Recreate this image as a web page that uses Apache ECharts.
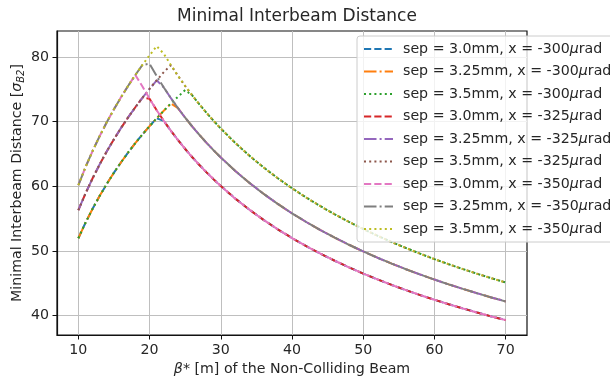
<!DOCTYPE html>
<html>
<head>
<meta charset="utf-8">
<script src="https://cdn.jsdelivr.net/npm/echarts@6/dist/echarts.min.js"></script>
<style>
html,body{margin:0;padding:0;background:#fff;}
#chart{width:610px;height:377px;}
</style>
</head>
<body>
<div id="chart"></div>
<script>
// beta* values [m]
const betas = [10,11,12,13,14,15,16,17,18,19,20,21,22,23,24,25,26,27,28,29,30,
  32,34,36,38,40,42,44,46,48,50,52,54,56,58,60,62,64,66,68,70];

const xTicks = [10,20,30,40,50,60,70];
const yTicks = [40,50,60,70,80];

// x = -300 urad
const sep30_x300 = [51.96,54.35,56.52,58.52,60.38,62.10,63.71,65.23,66.66,68.01,69.29,70.51,
  70.10,68.56,67.12,65.76,64.48,63.28,62.14,61.06,60.03,
  58.12,56.39,54.80,53.34,51.99,50.73,49.57,48.48,47.46,46.50,45.60,44.74,43.94,43.17,42.45,41.76,41.10,40.47,39.87,39.30];
const sep325_x300 = [51.96,54.35,56.52,58.52,60.38,62.10,63.71,65.23,66.66,68.01,69.29,70.51,71.68,72.79,
  72.06,70.60,69.23,67.93,66.71,65.55,64.45,
  62.40,60.54,58.83,57.26,55.81,54.47,53.22,52.05,50.95,49.92,48.95,48.04,47.17,46.35,45.57,44.83,44.13,43.45,42.81,42.19];
const sep35_x300 = [51.96,54.35,56.52,58.52,60.38,62.10,63.71,65.23,66.66,68.01,69.29,70.51,71.68,72.79,73.85,74.87,
  74.03,72.65,71.34,70.10,68.92,
  66.73,64.74,62.92,61.24,59.69,58.25,56.91,55.66,54.49,53.39,52.35,51.37,50.45,49.57,48.73,47.94,47.19,46.47,45.78,45.12];
// x = -325 urad
const sep30_x325 = [56.29,58.88,61.23,63.39,65.41,67.27,69.02,70.66,72.21,73.68,
  73.52,71.75,70.10,68.56,67.12,65.76,64.48,63.28,62.14,61.06,60.03,
  58.12,56.39,54.80,53.34,51.99,50.73,49.57,48.48,47.46,46.50,45.60,44.74,43.94,43.17,42.45,41.76,41.10,40.47,39.87,39.30];
const sep325_x325 = [56.29,58.88,61.23,63.39,65.41,67.27,69.02,70.66,72.21,73.68,75.06,76.38,
  75.26,73.61,72.06,70.60,69.23,67.93,66.71,65.55,64.45,
  62.40,60.54,58.83,57.26,55.81,54.47,53.22,52.05,50.95,49.92,48.95,48.04,47.17,46.35,45.57,44.83,44.13,43.45,42.81,42.19];
const sep35_x325 = [56.29,58.88,61.23,63.39,65.41,67.27,69.02,70.66,72.21,73.68,75.06,76.38,77.65,
  78.71,77.06,75.50,74.03,72.65,71.34,70.10,68.92,
  66.73,64.74,62.92,61.24,59.69,58.25,56.91,55.66,54.49,53.39,52.35,51.37,50.45,49.57,48.73,47.94,47.19,46.47,45.78,45.12];
// x = -350 urad
const sep30_x350 = [60.17,62.94,65.45,67.77,69.92,71.91,73.78,75.54,77.19,
  75.43,73.52,71.75,70.10,68.56,67.12,65.76,64.48,63.28,62.14,61.06,60.03,
  58.12,56.39,54.80,53.34,51.99,50.73,49.57,48.48,47.46,46.50,45.60,44.74,43.94,43.17,42.45,41.76,41.10,40.47,39.87,39.30];
const sep325_x350 = [60.17,62.94,65.45,67.77,69.92,71.91,73.78,75.54,77.19,78.76,
  78.93,77.03,75.26,73.61,72.06,70.60,69.23,67.93,66.71,65.55,64.45,
  62.40,60.54,58.83,57.26,55.81,54.47,53.22,52.05,50.95,49.92,48.95,48.04,47.17,46.35,45.57,44.83,44.13,43.45,42.81,42.19];
const sep35_x350 = [60.17,62.94,65.45,67.77,69.92,71.91,73.78,75.54,77.19,78.76,80.24,81.65,
  80.48,78.71,77.06,75.50,74.03,72.65,71.34,70.10,68.92,
  66.73,64.74,62.92,61.24,59.69,58.25,56.91,55.66,54.49,53.39,52.35,51.37,50.45,49.57,48.73,47.94,47.19,46.47,45.78,45.12];

const seriesNames = [
  'sep = 3.0mm, x = -300', 'sep = 3.25mm, x = -300', 'sep = 3.5mm, x = -300',
  'sep = 3.0mm, x = -325', 'sep = 3.25mm, x = -325', 'sep = 3.5mm, x = -325',
  'sep = 3.0mm, x = -350', 'sep = 3.25mm, x = -350', 'sep = 3.5mm, x = -350'
];
const seriesValues = [sep30_x300, sep325_x300, sep35_x300, sep30_x325, sep325_x325, sep35_x325, sep30_x350, sep325_x350, sep35_x350];
const colors = ['#1f77b4','#ff7f0e','#2ca02c','#d62728','#9467bd','#8c564b','#e377c2','#7f7f7f','#bcbd22'];
const dashes = [[7.2,3.1],[12.5,3.1,2,3.1],[2,3.2]];

const FONT = 'DejaVu Sans';
const TXT = '#262626';
const FS = 14.2;

const chart = echarts.init(document.getElementById('chart'), null, {renderer: 'canvas'});

const series = seriesValues.map((vals, i) => ({
  name: seriesNames[i],
  type: 'line',
  data: betas.map((b, j) => [b, vals[j]]),
  symbol: 'none',
  showSymbol: false,
  animation: false,
  lineStyle: { color: colors[i], width: 2, type: dashes[i % 3], cap: 'butt' },
  itemStyle: { color: colors[i] },
  emphasis: { disabled: true }
}));

chart.setOption({
  animation: false,
  title: {
    text: 'Minimal Interbeam Distance',
    left: 292, top: 3, textAlign: 'center',
    textStyle: { fontFamily: FONT, fontSize: 17, fontWeight: 'normal', color: TXT }
  },
  grid: { left: 57, right: 83, top: 31, bottom: 42, show: true, borderColor: '#111', borderWidth: 1.2, containLabel: false, outerBoundsMode: 'none' },
  legend: {
    orient: 'vertical', left: 357, top: 36,
    padding: [6, 60, 6, 6],
    itemWidth: 29, itemHeight: 14, itemGap: 8.5,
    backgroundColor: 'rgba(255,255,255,0.8)',
    borderColor: '#cccccc', borderWidth: 1, borderRadius: 3,
    itemStyle: { opacity: 0 },
    data: seriesNames,
    formatter: function (n) { return n + '{i|μ}rad'; },
    textStyle: {
      fontFamily: FONT, fontSize: FS, color: TXT, lineHeight: 14, padding: [0,0,0,5],
      rich: { i: { fontFamily: FONT, fontSize: FS, fontStyle: 'italic', color: TXT, lineHeight: 14 } }
    }
  },
  xAxis: {
    type: 'value', min: 7, max: 73,
    name: '{i|β}* [m] of the Non-Colliding Beam',
    nameLocation: 'middle', nameGap: 27,
    nameTextStyle: {
      fontFamily: FONT, fontSize: FS, color: TXT,
      rich: { i: { fontFamily: FONT, fontSize: FS, fontStyle: 'italic', color: TXT } }
    },
    axisLine: { show: true, lineStyle: { color: '#111', width: 1.2 } },
    axisTick: { show: true, length: 4.5, customValues: xTicks, lineStyle: { color: '#111', width: 1 } },
    axisLabel: { customValues: xTicks, fontFamily: FONT, fontSize: FS, color: TXT, margin: 8 },
    splitLine: { show: true, lineStyle: { color: '#bfbfbf', width: 1 } }
  },
  yAxis: {
    type: 'value', min: 37.0, max: 84.0,
    name: 'Minimal Interbeam Distance [{i|σ}{s|B2}]',
    nameLocation: 'middle', nameGap: 40, nameRotate: 90, nameMoveOverlap: false,
    nameTextStyle: {
      fontFamily: FONT, fontSize: FS, color: TXT, lineHeight: 18, verticalAlign: 'middle',
      rich: {
        i: { fontFamily: FONT, fontSize: FS, fontStyle: 'italic', color: TXT, lineHeight: 18 },
        s: { fontFamily: FONT, fontSize: 10, fontStyle: 'italic', color: TXT, lineHeight: 18, verticalAlign: 'bottom' }
      }
    },
    axisLine: { show: true, lineStyle: { color: '#111', width: 1.2 } },
    axisTick: { show: true, length: 4.5, customValues: yTicks, lineStyle: { color: '#111', width: 1 } },
    axisLabel: { customValues: yTicks, fontFamily: FONT, fontSize: FS, color: TXT, margin: 8 },
    splitLine: { show: true, lineStyle: { color: '#bfbfbf', width: 1 } }
  },
  series: series
});
</script>
</body>
</html>
